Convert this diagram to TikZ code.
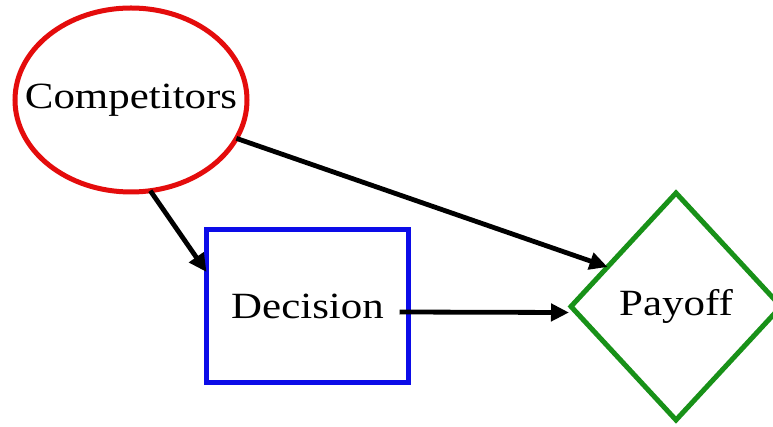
\documentclass[tikz,border=0pt]{standalone}
\usepackage{fontspec}
\setmainfont{Liberation Serif}
\usetikzlibrary{shapes.geometric,arrows.meta}
\definecolor{ringred}{RGB}{228,12,12}
\definecolor{boxblue}{RGB}{12,12,232}
\definecolor{diagreen}{RGB}{24,145,24}
% label text, slightly widened; zero width so the shape keeps its own size
\newcommand{\lbl}[1]{\makebox[0pt][c]{\scalebox{1.16}[1]{\fontsize{37}{40}\selectfont #1}}}
\tikzset{
  shapeline/.style={line width=5pt, inner sep=0pt, outer sep=0pt},
  link/.style={line width=4.8pt, -{Triangle[length=18pt,width=17pt]}},
}
\begin{document}
\begin{tikzpicture}[x=1pt,y=-1pt]
  \useasboundingbox (0,0) rectangle (773,427);
  \clip (0,0) rectangle (773,427);
  \fill[white] (0,0) rectangle (773,427);
  % nodes
  \node[shapeline, ellipse, draw=ringred, minimum width=232pt, minimum height=184pt]
    (comp) at (131,100) {\lbl{Competitors}};
  \node[shapeline, rectangle, draw=boxblue, minimum width=202pt, minimum height=153pt]
    (dec) at (307.5,306) {\lbl{Decision}};
  \node[shapeline, diamond, draw=diagreen, minimum width=210pt, minimum height=227pt]
    (pay) at (676,306.5) {\lbl{Payoff}};
  % connectors
  \draw[link] (comp.-78) -- ([yshift=34pt]dec.west);
  \draw[link] (comp.-20) -- (pay.150);
  \draw[link] ([shift={(-9pt,-6pt)}]dec.east) -- ([shift={(-2pt,-6pt)}]pay.west);
\end{tikzpicture}
\end{document}
